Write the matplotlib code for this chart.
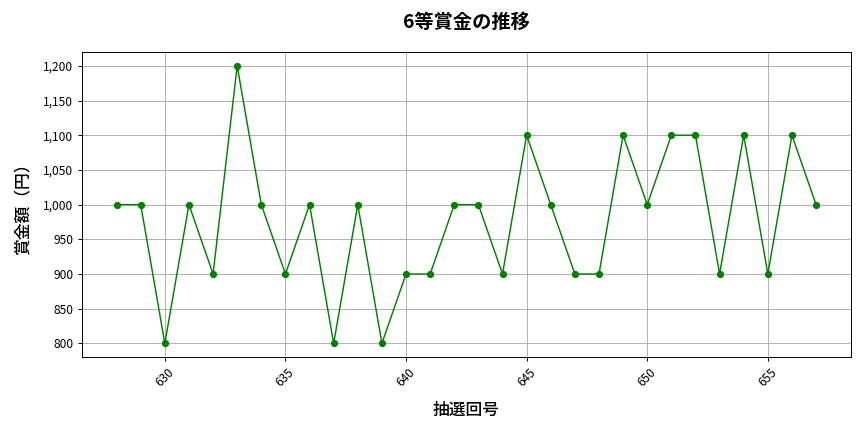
import matplotlib.pyplot as plt
from matplotlib.ticker import FuncFormatter

plt.rcParams['font.family'] = ['Noto Sans CJK JP', 'DejaVu Sans']

# draw numbers and 6th prize amounts
draws = list(range(628, 658))
prizes = [1000, 1000, 800, 1000, 900, 1200, 1000, 900, 1000, 800,
          1000, 800, 900, 900, 1000, 1000, 900, 1100, 1000, 900,
          900, 1100, 1000, 1100, 1100, 900, 1100, 900, 1100, 1000]

fig, ax = plt.subplots(figsize=(10, 5), dpi=86.4)
ax.plot(draws, prizes, marker='o', color='green', markersize=5, linewidth=1.2)

ax.set_title('6等賞金の推移', fontsize=16, fontweight='bold', pad=20)
ax.set_xlabel('抽選回号', fontsize=14, fontweight='medium', labelpad=10)
ax.set_ylabel('賞金額（円）', fontsize=14, fontweight='medium', labelpad=10)
ax.yaxis.set_major_formatter(FuncFormatter(lambda v, p: f'{int(v):,}'))
ax.tick_params(axis='x', rotation=45)
ax.grid(True)

plt.tight_layout()
plt.savefig('out.png')
